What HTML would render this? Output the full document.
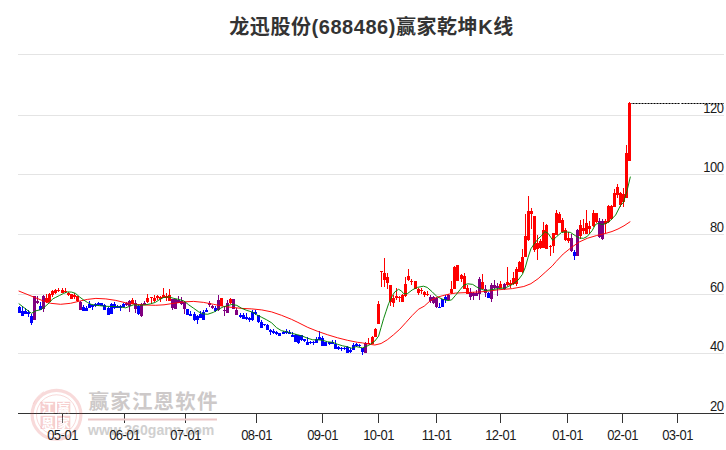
<!DOCTYPE html>
<html><head><meta charset="utf-8"><title>龙迅股份(688486)赢家乾坤K线</title>
<style>
html,body{margin:0;padding:0;background:#fff;}
body{width:726px;height:450px;overflow:hidden;}
svg{display:block;}
.lab{font-family:"Liberation Sans",sans-serif;font-size:13px;letter-spacing:-0.5px;fill:#1a1a1a;}
.ttl{font-family:"Liberation Sans","Noto Sans CJK SC",sans-serif;font-weight:bold;font-size:20px;fill:#333;letter-spacing:0.55px;}
.wm{font-family:"Liberation Sans","Noto Sans CJK SC",sans-serif;}
</style></head><body>
<svg width="726" height="450" viewBox="0 0 726 450">
<rect width="726" height="450" fill="#fff"/>
<text class="ttl" x="371.5" y="34" text-anchor="middle">龙迅股份(688486)赢家乾坤K线</text>
<g shape-rendering="crispEdges">
<rect x="18" y="54" width="706" height="1" fill="#e4e4e4"/>
<rect x="18" y="115" width="706" height="1" fill="#e4e4e4"/>
<rect x="18" y="174" width="706" height="1" fill="#e4e4e4"/>
<rect x="18" y="234" width="706" height="1" fill="#e4e4e4"/>
<rect x="18" y="294" width="706" height="1" fill="#e4e4e4"/>
<rect x="18" y="353" width="706" height="1" fill="#e4e4e4"/>
</g>
<g class="lab">
<text transform="translate(723.5,113) scale(1,1.09)" text-anchor="end">120</text>
<text transform="translate(723.5,172) scale(1,1.09)" text-anchor="end">100</text>
<text transform="translate(723.5,232) scale(1,1.09)" text-anchor="end">80</text>
<text transform="translate(723.5,292) scale(1,1.09)" text-anchor="end">60</text>
<text transform="translate(723.5,351) scale(1,1.09)" text-anchor="end">40</text>
<text transform="translate(723.5,411) scale(1,1.09)" text-anchor="end">20</text>
</g>
<g shape-rendering="crispEdges">
<g fill="#0000ff"><rect x="19" y="306" width="1" height="1"/><rect x="18" y="307" width="3" height="6"/></g>
<g fill="#0000ff"><rect x="22" y="306" width="1" height="5"/><rect x="21" y="311" width="3" height="5"/></g>
<g fill="#0000ff"><rect x="25" y="308" width="1" height="3"/><rect x="24" y="311" width="3" height="3"/></g>
<g fill="#0000ff"><rect x="28" y="310" width="1" height="2"/><rect x="28" y="314" width="1" height="3"/><rect x="27" y="312" width="3" height="2"/></g>
<g fill="#0000ff"><rect x="31" y="314" width="1" height="2"/><rect x="31" y="323" width="1" height="2"/><rect x="30" y="316" width="3" height="7"/></g>
<g fill="#800080"><rect x="33" y="296" width="3" height="24"/></g>
<g fill="#800080"><rect x="37" y="296" width="1" height="5"/><rect x="37" y="303" width="1" height="1"/><rect x="36" y="301" width="3" height="2"/></g>
<g fill="#0000ff"><rect x="40" y="302" width="1" height="4"/><rect x="39" y="306" width="3" height="4"/></g>
<g fill="#800080"><rect x="43" y="295" width="1" height="1"/><rect x="43" y="309" width="1" height="3"/><rect x="42" y="296" width="3" height="13"/></g>
<g fill="#ff0000"><rect x="46" y="294" width="1" height="4"/><rect x="46" y="302" width="1" height="1"/><rect x="45" y="298" width="3" height="4"/></g>
<g fill="#ff0000"><rect x="49" y="293" width="1" height="1"/><rect x="48" y="294" width="3" height="8"/></g>
<g fill="#ff0000"><rect x="52" y="290" width="1" height="1"/><rect x="52" y="295" width="1" height="2"/><rect x="51" y="291" width="3" height="4"/></g>
<g fill="#ff0000"><rect x="55" y="289" width="1" height="1"/><rect x="55" y="293" width="1" height="1"/><rect x="54" y="290" width="3" height="3"/></g>
<g fill="#ff0000"><rect x="58" y="288" width="1" height="2"/><rect x="58" y="291" width="1" height="1"/><rect x="57" y="290" width="3" height="1"/></g>
<g fill="#ff0000"><rect x="62" y="288" width="1" height="2"/><rect x="61" y="290" width="3" height="3"/></g>
<g fill="#ff0000"><rect x="65" y="288" width="1" height="3"/><rect x="65" y="292" width="1" height="1"/><rect x="64" y="291" width="3" height="1"/></g>
<g fill="#ff0000"><rect x="68" y="292" width="1" height="1"/><rect x="68" y="295" width="1" height="1"/><rect x="67" y="293" width="3" height="2"/></g>
<g fill="#ff0000"><rect x="70" y="294" width="3" height="5"/></g>
<g fill="#ff0000"><rect x="74" y="293" width="1" height="2"/><rect x="74" y="297" width="1" height="2"/><rect x="73" y="295" width="3" height="2"/></g>
<g fill="#ff0000"><rect x="77" y="301" width="1" height="1"/><rect x="76" y="296" width="3" height="5"/></g>
<g fill="#800080"><rect x="80" y="301" width="1" height="1"/><rect x="79" y="302" width="3" height="8"/></g>
<g fill="#0000ff"><rect x="83" y="305" width="1" height="2"/><rect x="82" y="307" width="3" height="4"/></g>
<g fill="#0000ff"><rect x="86" y="306" width="1" height="2"/><rect x="85" y="308" width="3" height="3"/></g>
<g fill="#0000ff"><rect x="89" y="301" width="1" height="3"/><rect x="88" y="304" width="3" height="4"/></g>
<g fill="#0000ff"><rect x="92" y="307" width="1" height="3"/><rect x="91" y="305" width="3" height="2"/></g>
<g fill="#0000ff"><rect x="95" y="303" width="1" height="1"/><rect x="95" y="306" width="1" height="1"/><rect x="94" y="304" width="3" height="2"/></g>
<g fill="#0000ff"><rect x="98" y="302" width="1" height="1"/><rect x="98" y="305" width="1" height="1"/><rect x="97" y="303" width="3" height="2"/></g>
<g fill="#0000ff"><rect x="100" y="303" width="3" height="3"/></g>
<g fill="#0000ff"><rect x="104" y="304" width="1" height="1"/><rect x="103" y="305" width="3" height="5"/></g>
<g fill="#0000ff"><rect x="108" y="307" width="1" height="1"/><rect x="107" y="308" width="3" height="7"/></g>
<g fill="#0000ff"><rect x="111" y="303" width="1" height="1"/><rect x="110" y="304" width="3" height="10"/></g>
<g fill="#0000ff"><rect x="114" y="302" width="1" height="2"/><rect x="114" y="308" width="1" height="1"/><rect x="113" y="304" width="3" height="4"/></g>
<g fill="#0000ff"><rect x="117" y="305" width="1" height="1"/><rect x="116" y="306" width="3" height="2"/></g>
<g fill="#0000ff"><rect x="120" y="305" width="1" height="1"/><rect x="120" y="308" width="1" height="3"/><rect x="119" y="306" width="3" height="2"/></g>
<g fill="#0000ff"><rect x="123" y="303" width="1" height="1"/><rect x="122" y="304" width="3" height="3"/></g>
<g fill="#800080"><rect x="126" y="302" width="1" height="1"/><rect x="126" y="305" width="1" height="1"/><rect x="125" y="303" width="3" height="2"/></g>
<g fill="#800080"><rect x="129" y="300" width="1" height="1"/><rect x="129" y="306" width="1" height="6"/><rect x="128" y="301" width="3" height="5"/></g>
<g fill="#ff0000"><rect x="132" y="298" width="1" height="2"/><rect x="131" y="300" width="3" height="4"/></g>
<g fill="#800080"><rect x="135" y="300" width="1" height="3"/><rect x="135" y="309" width="1" height="4"/><rect x="134" y="303" width="3" height="6"/></g>
<g fill="#0000ff"><rect x="138" y="305" width="1" height="1"/><rect x="138" y="314" width="1" height="1"/><rect x="137" y="306" width="3" height="8"/></g>
<g fill="#800080"><rect x="141" y="303" width="1" height="1"/><rect x="141" y="316" width="1" height="1"/><rect x="140" y="304" width="3" height="12"/></g>
<g fill="#800080"><rect x="144" y="301" width="1" height="2"/><rect x="143" y="303" width="3" height="2"/></g>
<g fill="#ff0000"><rect x="147" y="294" width="1" height="4"/><rect x="147" y="302" width="1" height="1"/><rect x="146" y="298" width="3" height="4"/></g>
<g fill="#ff0000"><rect x="151" y="298" width="1" height="5"/><rect x="150" y="297" width="3" height="1"/></g>
<g fill="#ff0000"><rect x="154" y="295" width="1" height="3"/><rect x="154" y="301" width="1" height="1"/><rect x="153" y="298" width="3" height="3"/></g>
<g fill="#ff0000"><rect x="157" y="295" width="1" height="1"/><rect x="157" y="298" width="1" height="2"/><rect x="156" y="296" width="3" height="2"/></g>
<g fill="#ff0000"><rect x="160" y="296" width="1" height="1"/><rect x="160" y="299" width="1" height="3"/><rect x="159" y="297" width="3" height="2"/></g>
<g fill="#ff0000"><rect x="163" y="288" width="1" height="7"/><rect x="162" y="295" width="3" height="3"/></g>
<g fill="#ff0000"><rect x="166" y="293" width="1" height="3"/><rect x="166" y="298" width="1" height="3"/><rect x="165" y="296" width="3" height="2"/></g>
<g fill="#ff0000"><rect x="169" y="289" width="1" height="6"/><rect x="168" y="295" width="3" height="6"/></g>
<g fill="#800080"><rect x="172" y="308" width="1" height="2"/><rect x="171" y="299" width="3" height="9"/></g>
<g fill="#800080"><rect x="174" y="299" width="3" height="10"/></g>
<g fill="#800080"><rect x="178" y="296" width="1" height="4"/><rect x="177" y="300" width="3" height="3"/></g>
<g fill="#800080"><rect x="181" y="297" width="1" height="4"/><rect x="181" y="304" width="1" height="1"/><rect x="180" y="301" width="3" height="3"/></g>
<g fill="#800080"><rect x="184" y="309" width="1" height="5"/><rect x="183" y="302" width="3" height="7"/></g>
<g fill="#0000ff"><rect x="186" y="309" width="3" height="6"/></g>
<g fill="#0000ff"><rect x="190" y="311" width="1" height="3"/><rect x="189" y="314" width="3" height="2"/></g>
<g fill="#0000ff"><rect x="194" y="312" width="1" height="2"/><rect x="194" y="320" width="1" height="1"/><rect x="193" y="314" width="3" height="6"/></g>
<g fill="#0000ff"><rect x="197" y="315" width="1" height="1"/><rect x="197" y="320" width="1" height="4"/><rect x="196" y="316" width="3" height="4"/></g>
<g fill="#0000ff"><rect x="200" y="311" width="1" height="3"/><rect x="199" y="314" width="3" height="4"/></g>
<g fill="#0000ff"><rect x="203" y="310" width="1" height="2"/><rect x="202" y="312" width="3" height="8"/></g>
<g fill="#0000ff"><rect x="206" y="308" width="1" height="2"/><rect x="205" y="310" width="3" height="2"/></g>
<g fill="#800080"><rect x="209" y="301" width="1" height="2"/><rect x="209" y="305" width="1" height="2"/><rect x="208" y="303" width="3" height="2"/></g>
<g fill="#800080"><rect x="212" y="305" width="1" height="1"/><rect x="212" y="308" width="1" height="1"/><rect x="211" y="306" width="3" height="2"/></g>
<g fill="#0000ff"><rect x="215" y="306" width="1" height="2"/><rect x="215" y="311" width="1" height="1"/><rect x="214" y="308" width="3" height="3"/></g>
<g fill="#800080"><rect x="218" y="295" width="1" height="5"/><rect x="218" y="310" width="1" height="1"/><rect x="217" y="300" width="3" height="10"/></g>
<g fill="#ff0000"><rect x="220" y="298" width="3" height="8"/></g>
<g fill="#800080"><rect x="224" y="307" width="1" height="3"/><rect x="224" y="311" width="1" height="5"/><rect x="223" y="310" width="3" height="1"/></g>
<g fill="#800080"><rect x="227" y="300" width="1" height="3"/><rect x="226" y="303" width="3" height="10"/></g>
<g fill="#ff0000"><rect x="230" y="298" width="1" height="1"/><rect x="230" y="303" width="1" height="1"/><rect x="229" y="299" width="3" height="4"/></g>
<g fill="#800080"><rect x="232" y="299" width="3" height="10"/></g>
<g fill="#800080"><rect x="236" y="308" width="1" height="2"/><rect x="235" y="310" width="3" height="5"/></g>
<g fill="#0000ff"><rect x="240" y="313" width="1" height="2"/><rect x="240" y="317" width="1" height="1"/><rect x="239" y="315" width="3" height="2"/></g>
<g fill="#0000ff"><rect x="243" y="313" width="1" height="2"/><rect x="242" y="315" width="3" height="4"/></g>
<g fill="#0000ff"><rect x="246" y="313" width="1" height="4"/><rect x="246" y="319" width="1" height="1"/><rect x="245" y="317" width="3" height="2"/></g>
<g fill="#0000ff"><rect x="249" y="317" width="1" height="1"/><rect x="249" y="320" width="1" height="2"/><rect x="248" y="318" width="3" height="2"/></g>
<g fill="#0000ff"><rect x="252" y="310" width="1" height="2"/><rect x="252" y="320" width="1" height="1"/><rect x="251" y="312" width="3" height="8"/></g>
<g fill="#0000ff"><rect x="255" y="310" width="1" height="2"/><rect x="255" y="314" width="1" height="1"/><rect x="254" y="312" width="3" height="2"/></g>
<g fill="#0000ff"><rect x="258" y="322" width="1" height="1"/><rect x="257" y="315" width="3" height="7"/></g>
<g fill="#0000ff"><rect x="261" y="320" width="1" height="2"/><rect x="260" y="322" width="3" height="6"/></g>
<g fill="#0000ff"><rect x="264" y="325" width="1" height="1"/><rect x="263" y="324" width="3" height="1"/></g>
<g fill="#0000ff"><rect x="267" y="324" width="1" height="1"/><rect x="266" y="325" width="3" height="5"/></g>
<g fill="#0000ff"><rect x="270" y="329" width="1" height="1"/><rect x="270" y="332" width="1" height="3"/><rect x="269" y="330" width="3" height="2"/></g>
<g fill="#0000ff"><rect x="273" y="329" width="1" height="2"/><rect x="273" y="333" width="1" height="1"/><rect x="272" y="331" width="3" height="2"/></g>
<g fill="#0000ff"><rect x="276" y="331" width="1" height="1"/><rect x="276" y="334" width="1" height="1"/><rect x="275" y="332" width="3" height="2"/></g>
<g fill="#0000ff"><rect x="278" y="333" width="3" height="3"/></g>
<g fill="#0000ff"><rect x="283" y="331" width="1" height="1"/><rect x="282" y="332" width="3" height="2"/></g>
<g fill="#0000ff"><rect x="286" y="329" width="1" height="2"/><rect x="286" y="333" width="1" height="1"/><rect x="285" y="331" width="3" height="2"/></g>
<g fill="#0000ff"><rect x="289" y="330" width="1" height="2"/><rect x="288" y="332" width="3" height="2"/></g>
<g fill="#0000ff"><rect x="292" y="332" width="1" height="3"/><rect x="291" y="335" width="3" height="2"/></g>
<g fill="#0000ff"><rect x="295" y="334" width="1" height="1"/><rect x="294" y="335" width="3" height="7"/></g>
<g fill="#0000ff"><rect x="298" y="343" width="1" height="1"/><rect x="297" y="335" width="3" height="8"/></g>
<g fill="#0000ff"><rect x="301" y="340" width="1" height="1"/><rect x="300" y="335" width="3" height="5"/></g>
<g fill="#0000ff"><rect x="304" y="341" width="1" height="1"/><rect x="303" y="339" width="3" height="2"/></g>
<g fill="#0000ff"><rect x="307" y="337" width="1" height="5"/><rect x="306" y="342" width="3" height="3"/></g>
<g fill="#0000ff"><rect x="310" y="341" width="1" height="1"/><rect x="310" y="343" width="1" height="1"/><rect x="309" y="342" width="3" height="1"/></g>
<g fill="#0000ff"><rect x="313" y="341" width="1" height="1"/><rect x="313" y="343" width="1" height="2"/><rect x="312" y="342" width="3" height="1"/></g>
<g fill="#0000ff"><rect x="316" y="337" width="1" height="2"/><rect x="315" y="339" width="3" height="4"/></g>
<g fill="#0000ff"><rect x="319" y="331" width="1" height="6"/><rect x="318" y="337" width="3" height="3"/></g>
<g fill="#0000ff"><rect x="322" y="336" width="1" height="2"/><rect x="321" y="338" width="3" height="8"/></g>
<g fill="#0000ff"><rect x="324" y="342" width="3" height="4"/></g>
<g fill="#0000ff"><rect x="329" y="344" width="1" height="1"/><rect x="328" y="342" width="3" height="2"/></g>
<g fill="#0000ff"><rect x="332" y="340" width="1" height="2"/><rect x="331" y="342" width="3" height="2"/></g>
<g fill="#0000ff"><rect x="335" y="340" width="1" height="4"/><rect x="334" y="344" width="3" height="5"/></g>
<g fill="#0000ff"><rect x="338" y="346" width="1" height="1"/><rect x="338" y="349" width="1" height="1"/><rect x="337" y="347" width="3" height="2"/></g>
<g fill="#0000ff"><rect x="341" y="347" width="1" height="1"/><rect x="341" y="349" width="1" height="2"/><rect x="340" y="348" width="3" height="1"/></g>
<g fill="#0000ff"><rect x="344" y="347" width="1" height="1"/><rect x="344" y="349" width="1" height="1"/><rect x="343" y="348" width="3" height="1"/></g>
<g fill="#0000ff"><rect x="347" y="346" width="1" height="1"/><rect x="346" y="347" width="3" height="6"/></g>
<g fill="#0000ff"><rect x="350" y="348" width="1" height="2"/><rect x="350" y="352" width="1" height="1"/><rect x="349" y="350" width="3" height="2"/></g>
<g fill="#0000ff"><rect x="353" y="343" width="1" height="2"/><rect x="352" y="345" width="3" height="5"/></g>
<g fill="#0000ff"><rect x="356" y="343" width="1" height="1"/><rect x="356" y="346" width="1" height="1"/><rect x="355" y="344" width="3" height="2"/></g>
<g fill="#0000ff"><rect x="359" y="344" width="1" height="1"/><rect x="359" y="346" width="1" height="1"/><rect x="358" y="345" width="3" height="1"/></g>
<g fill="#0000ff"><rect x="362" y="352" width="1" height="3"/><rect x="361" y="348" width="3" height="4"/></g>
<g fill="#800080"><rect x="365" y="342" width="1" height="1"/><rect x="364" y="343" width="3" height="10"/></g>
<g fill="#ff0000"><rect x="368" y="338" width="1" height="5"/><rect x="367" y="343" width="3" height="1"/></g>
<g fill="#ff0000"><rect x="372" y="336" width="1" height="1"/><rect x="371" y="337" width="3" height="7"/></g>
<g fill="#ff0000"><rect x="375" y="328" width="1" height="1"/><rect x="374" y="329" width="3" height="8"/></g>
<g fill="#ff0000"><rect x="378" y="301" width="1" height="3"/><rect x="377" y="304" width="3" height="20"/></g>
<g fill="#ff0000"><rect x="381" y="272" width="1" height="15"/><rect x="380" y="271" width="3" height="1"/></g>
<g fill="#ff0000"><rect x="384" y="258" width="1" height="15"/><rect x="384" y="280" width="1" height="7"/><rect x="383" y="273" width="3" height="7"/></g>
<g fill="#ff0000"><rect x="387" y="273" width="1" height="4"/><rect x="387" y="283" width="1" height="6"/><rect x="386" y="277" width="3" height="6"/></g>
<g fill="#ff0000"><rect x="390" y="302" width="1" height="4"/><rect x="389" y="285" width="3" height="17"/></g>
<g fill="#ff0000"><rect x="393" y="295" width="1" height="3"/><rect x="393" y="303" width="1" height="4"/><rect x="392" y="298" width="3" height="5"/></g>
<g fill="#ff0000"><rect x="396" y="288" width="1" height="8"/><rect x="396" y="298" width="1" height="2"/><rect x="395" y="296" width="3" height="2"/></g>
<g fill="#ff0000"><rect x="399" y="296" width="1" height="1"/><rect x="399" y="298" width="1" height="4"/><rect x="398" y="297" width="3" height="1"/></g>
<g fill="#ff0000"><rect x="402" y="294" width="1" height="1"/><rect x="401" y="295" width="3" height="7"/></g>
<g fill="#ff0000"><rect x="405" y="277" width="1" height="7"/><rect x="405" y="296" width="1" height="1"/><rect x="404" y="284" width="3" height="12"/></g>
<g fill="#ff0000"><rect x="408" y="269" width="1" height="7"/><rect x="408" y="280" width="1" height="1"/><rect x="407" y="276" width="3" height="4"/></g>
<g fill="#ff0000"><rect x="411" y="279" width="1" height="2"/><rect x="411" y="282" width="1" height="3"/><rect x="410" y="281" width="3" height="1"/></g>
<g fill="#ff0000"><rect x="414" y="281" width="3" height="8"/></g>
<g fill="#ff0000"><rect x="418" y="288" width="1" height="1"/><rect x="418" y="293" width="1" height="2"/><rect x="417" y="289" width="3" height="4"/></g>
<g fill="#ff0000"><rect x="421" y="288" width="1" height="2"/><rect x="421" y="291" width="1" height="3"/><rect x="420" y="290" width="3" height="1"/></g>
<g fill="#ff0000"><rect x="424" y="291" width="1" height="1"/><rect x="424" y="295" width="1" height="2"/><rect x="423" y="292" width="3" height="3"/></g>
<g fill="#ff0000"><rect x="427" y="291" width="1" height="3"/><rect x="427" y="295" width="1" height="1"/><rect x="426" y="294" width="3" height="1"/></g>
<g fill="#800080"><rect x="430" y="295" width="1" height="2"/><rect x="430" y="301" width="1" height="2"/><rect x="429" y="297" width="3" height="4"/></g>
<g fill="#800080"><rect x="433" y="296" width="1" height="1"/><rect x="433" y="303" width="1" height="1"/><rect x="432" y="297" width="3" height="6"/></g>
<g fill="#800080"><rect x="436" y="297" width="1" height="1"/><rect x="436" y="307" width="1" height="1"/><rect x="435" y="298" width="3" height="9"/></g>
<g fill="#0000ff"><rect x="439" y="303" width="1" height="4"/><rect x="438" y="307" width="3" height="1"/></g>
<g fill="#0000ff"><rect x="441" y="299" width="3" height="8"/></g>
<g fill="#0000ff"><rect x="445" y="295" width="1" height="2"/><rect x="445" y="300" width="1" height="3"/><rect x="444" y="297" width="3" height="3"/></g>
<g fill="#800080"><rect x="448" y="294" width="1" height="1"/><rect x="447" y="295" width="3" height="5"/></g>
<g fill="#ff0000"><rect x="451" y="281" width="1" height="8"/><rect x="451" y="293" width="1" height="1"/><rect x="450" y="289" width="3" height="4"/></g>
<g fill="#ff0000"><rect x="454" y="266" width="1" height="1"/><rect x="453" y="267" width="3" height="22"/></g>
<g fill="#ff0000"><rect x="456" y="265" width="3" height="16"/></g>
<g fill="#ff0000"><rect x="461" y="274" width="1" height="1"/><rect x="461" y="279" width="1" height="3"/><rect x="460" y="275" width="3" height="4"/></g>
<g fill="#ff0000"><rect x="464" y="273" width="1" height="3"/><rect x="463" y="276" width="3" height="13"/></g>
<g fill="#ff0000"><rect x="467" y="285" width="1" height="3"/><rect x="466" y="288" width="3" height="6"/></g>
<g fill="#800080"><rect x="470" y="288" width="1" height="4"/><rect x="470" y="297" width="1" height="3"/><rect x="469" y="292" width="3" height="5"/></g>
<g fill="#800080"><rect x="473" y="292" width="1" height="1"/><rect x="473" y="296" width="1" height="4"/><rect x="472" y="293" width="3" height="3"/></g>
<g fill="#800080"><rect x="476" y="290" width="1" height="3"/><rect x="475" y="293" width="3" height="3"/></g>
<g fill="#800080"><rect x="479" y="277" width="1" height="2"/><rect x="479" y="294" width="1" height="6"/><rect x="478" y="279" width="3" height="15"/></g>
<g fill="#ff0000"><rect x="482" y="274" width="1" height="8"/><rect x="481" y="282" width="3" height="7"/></g>
<g fill="#800080"><rect x="485" y="285" width="1" height="4"/><rect x="485" y="293" width="1" height="4"/><rect x="484" y="289" width="3" height="4"/></g>
<g fill="#0000ff"><rect x="488" y="292" width="1" height="1"/><rect x="487" y="293" width="3" height="5"/></g>
<g fill="#800080"><rect x="491" y="283" width="1" height="2"/><rect x="491" y="299" width="1" height="3"/><rect x="490" y="285" width="3" height="14"/></g>
<g fill="#800080"><rect x="494" y="280" width="1" height="5"/><rect x="494" y="288" width="1" height="1"/><rect x="493" y="285" width="3" height="3"/></g>
<g fill="#800080"><rect x="497" y="283" width="1" height="3"/><rect x="497" y="288" width="1" height="8"/><rect x="496" y="286" width="3" height="2"/></g>
<g fill="#ff0000"><rect x="500" y="281" width="1" height="3"/><rect x="499" y="284" width="3" height="4"/></g>
<g fill="#800080"><rect x="504" y="283" width="1" height="1"/><rect x="504" y="289" width="1" height="1"/><rect x="503" y="284" width="3" height="5"/></g>
<g fill="#ff0000"><rect x="507" y="267" width="1" height="15"/><rect x="507" y="285" width="1" height="1"/><rect x="506" y="282" width="3" height="3"/></g>
<g fill="#ff0000"><rect x="510" y="280" width="1" height="3"/><rect x="510" y="285" width="1" height="3"/><rect x="509" y="283" width="3" height="2"/></g>
<g fill="#ff0000"><rect x="513" y="272" width="1" height="6"/><rect x="513" y="284" width="1" height="1"/><rect x="512" y="278" width="3" height="6"/></g>
<g fill="#ff0000"><rect x="516" y="267" width="1" height="2"/><rect x="516" y="284" width="1" height="2"/><rect x="515" y="269" width="3" height="15"/></g>
<g fill="#ff0000"><rect x="519" y="261" width="1" height="1"/><rect x="518" y="262" width="3" height="10"/></g>
<g fill="#ff0000"><rect x="522" y="249" width="1" height="8"/><rect x="522" y="272" width="1" height="1"/><rect x="521" y="257" width="3" height="15"/></g>
<g fill="#ff0000"><rect x="525" y="214" width="1" height="22"/><rect x="524" y="236" width="3" height="21"/></g>
<g fill="#ff0000"><rect x="528" y="196" width="1" height="15"/><rect x="528" y="240" width="1" height="1"/><rect x="527" y="211" width="3" height="29"/></g>
<g fill="#ff0000"><rect x="531" y="208" width="1" height="3"/><rect x="531" y="214" width="1" height="15"/><rect x="530" y="211" width="3" height="3"/></g>
<g fill="#ff0000"><rect x="534" y="250" width="1" height="2"/><rect x="533" y="216" width="3" height="34"/></g>
<g fill="#ff0000"><rect x="537" y="235" width="1" height="8"/><rect x="537" y="249" width="1" height="11"/><rect x="536" y="243" width="3" height="6"/></g>
<g fill="#ff0000"><rect x="540" y="239" width="1" height="2"/><rect x="540" y="248" width="1" height="1"/><rect x="539" y="241" width="3" height="7"/></g>
<g fill="#ff0000"><rect x="543" y="222" width="1" height="8"/><rect x="542" y="230" width="3" height="18"/></g>
<g fill="#ff0000"><rect x="546" y="224" width="1" height="1"/><rect x="545" y="225" width="3" height="24"/></g>
<g fill="#ff0000"><rect x="550" y="245" width="1" height="1"/><rect x="550" y="247" width="1" height="9"/><rect x="549" y="246" width="3" height="1"/></g>
<g fill="#ff0000"><rect x="553" y="246" width="1" height="7"/><rect x="552" y="233" width="3" height="13"/></g>
<g fill="#ff0000"><rect x="556" y="210" width="1" height="3"/><rect x="555" y="213" width="3" height="22"/></g>
<g fill="#ff0000"><rect x="559" y="212" width="1" height="2"/><rect x="558" y="214" width="3" height="9"/></g>
<g fill="#ff0000"><rect x="562" y="218" width="1" height="2"/><rect x="562" y="232" width="1" height="1"/><rect x="561" y="220" width="3" height="12"/></g>
<g fill="#ff0000"><rect x="565" y="228" width="1" height="2"/><rect x="565" y="240" width="1" height="1"/><rect x="564" y="230" width="3" height="10"/></g>
<g fill="#ff0000"><rect x="568" y="232" width="1" height="6"/><rect x="568" y="241" width="1" height="2"/><rect x="567" y="238" width="3" height="3"/></g>
<g fill="#800080"><rect x="571" y="234" width="1" height="4"/><rect x="571" y="251" width="1" height="1"/><rect x="570" y="238" width="3" height="13"/></g>
<g fill="#0000ff"><rect x="574" y="250" width="1" height="2"/><rect x="574" y="256" width="1" height="4"/><rect x="573" y="252" width="3" height="4"/></g>
<g fill="#800080"><rect x="577" y="229" width="1" height="1"/><rect x="576" y="230" width="3" height="26"/></g>
<g fill="#ff0000"><rect x="580" y="220" width="1" height="5"/><rect x="580" y="236" width="1" height="3"/><rect x="579" y="225" width="3" height="11"/></g>
<g fill="#ff0000"><rect x="583" y="219" width="1" height="9"/><rect x="583" y="231" width="1" height="3"/><rect x="582" y="228" width="3" height="3"/></g>
<g fill="#ff0000"><rect x="586" y="210" width="1" height="13"/><rect x="585" y="223" width="3" height="11"/></g>
<g fill="#ff0000"><rect x="589" y="221" width="1" height="5"/><rect x="589" y="229" width="1" height="5"/><rect x="588" y="226" width="3" height="3"/></g>
<g fill="#ff0000"><rect x="593" y="210" width="1" height="3"/><rect x="593" y="226" width="1" height="1"/><rect x="592" y="213" width="3" height="13"/></g>
<g fill="#ff0000"><rect x="596" y="222" width="1" height="1"/><rect x="595" y="213" width="3" height="9"/></g>
<g fill="#800080"><rect x="599" y="218" width="1" height="3"/><rect x="599" y="237" width="1" height="1"/><rect x="598" y="221" width="3" height="16"/></g>
<g fill="#800080"><rect x="602" y="219" width="1" height="2"/><rect x="602" y="239" width="1" height="1"/><rect x="601" y="221" width="3" height="18"/></g>
<g fill="#ff0000"><rect x="605" y="219" width="1" height="2"/><rect x="605" y="224" width="1" height="9"/><rect x="604" y="221" width="3" height="3"/></g>
<g fill="#ff0000"><rect x="608" y="205" width="1" height="1"/><rect x="608" y="222" width="1" height="1"/><rect x="607" y="206" width="3" height="16"/></g>
<g fill="#ff0000"><rect x="611" y="205" width="1" height="1"/><rect x="611" y="219" width="1" height="1"/><rect x="610" y="206" width="3" height="13"/></g>
<g fill="#ff0000"><rect x="614" y="189" width="1" height="4"/><rect x="613" y="193" width="3" height="14"/></g>
<g fill="#ff0000"><rect x="617" y="184" width="1" height="3"/><rect x="617" y="195" width="1" height="3"/><rect x="616" y="187" width="3" height="8"/></g>
<g fill="#ff0000"><rect x="620" y="192" width="1" height="1"/><rect x="620" y="205" width="1" height="2"/><rect x="619" y="193" width="3" height="12"/></g>
<g fill="#ff0000"><rect x="623" y="188" width="1" height="6"/><rect x="623" y="202" width="1" height="5"/><rect x="622" y="194" width="3" height="8"/></g>
<g fill="#ff0000"><rect x="626" y="145" width="1" height="8"/><rect x="625" y="153" width="3" height="45"/></g>
<g fill="#ff0000"><rect x="629" y="102" width="1" height="1"/><rect x="628" y="103" width="3" height="58"/></g>
</g>
<polyline points="19,291.1 35.8,297.9 45.8,301.9 50.7,303.3 60.6,304.3 70.6,303.3 80.5,300.9 87.4,299.4 95.9,298.4 105.8,298.9 115.8,300.4 125.7,302.8 135.6,304.3 145.5,305 155.4,305.3 164,304.8 173.8,303.3 183.8,301.9 193.7,301.4 203.6,302.4 213.5,304.3 223.4,306.3 231.9,307.4 241.8,308.4 251.8,308.9 261.7,309.9 271.6,311.9 281.5,315.3 291.4,319.3 297.9,322.4 307.8,327.4 317.8,331.4 327.7,334.8 337.6,337.8 347.5,340.3 357.4,342.3 362.4,342.9 368.7,344.2 374.9,345 381.1,343.5 387.3,339.8 393.5,334.8 399.8,329.2 406,322.4 412.2,315.5 418.4,309.3 424.2,306.2 430.4,300.6 436.7,297.4 442.9,295.6 449.1,294.1 455.3,293.1 467.8,292.5 480.2,291.9 490,290.9 498.2,289.8 512.4,288.6 523.8,286.5 530.9,283.7 538.1,278.7 545.2,272.3 552.3,265.9 556,261.6 563.2,254 571.2,247.6 579.2,242 587.3,238.3 596.7,235.5 606,233.3 612,231.5 618,229 624,225.8 630,221.8" fill="none" stroke="#ff0000" stroke-width="0.95" stroke-linejoin="round" stroke-linecap="round"/>
<polyline points="19,303.8 31.4,313.3 35.8,310.8 40.3,309.8 44.8,306.8 49.7,302.4 52.7,298.9 55.7,297.4 59.7,295.4 63.6,293.4 67.6,291.9 71.6,292.1 75.5,293.4 79.5,296.9 83.5,299.9 87.4,302.4 91,304.3 95.9,305.3 105.8,306.3 115.8,306.6 120.7,307 125.7,307.8 129.7,306.3 133.6,304.8 139.6,305.3 145.5,304.8 150.5,303.8 155.4,302.4 159,299.9 163.9,297.4 168.9,296.9 173.8,298.4 178.8,299.4 183.8,300.9 188.7,304.8 193.7,308.3 198.6,311.8 202.6,313.8 207.6,314.3 213.5,312.3 218.5,309.3 223.4,306.8 227,305.9 231.9,304.4 236.9,305.4 241.8,308.4 246.8,310.4 251.8,311.9 256.7,314.8 261.7,317.3 266.6,319.8 271.6,322.8 276.6,327.7 281.5,330.7 286.5,331.7 291.4,333.2 297.9,334.8 302.9,336.3 307.8,338.3 312.8,339.8 317.8,339.8 322.7,340.3 327.7,341.8 332.6,342.3 337.6,344.3 342.6,345.8 347.5,346.8 351.5,348.2 356.2,346.6 362.4,347.9 368.7,345.4 374.9,341 378.6,336.1 381.1,327.4 383.6,318.7 386.1,311.2 388.6,303.7 390.4,300 392.4,295.5 394.9,291.8 398.6,289.3 401.7,291.2 403.6,293.7 407.3,293.7 412.3,289.9 417.3,287.4 423.5,286.2 427.2,287.4 432.2,291.8 437.2,296.8 442.9,299.3 447.9,300.6 451.6,299.9 455.3,295.6 460.3,289.4 464,285 467.8,283.8 472.7,284.4 476.5,286.9 480.2,288.7 485.2,290.6 491.1,289.8 498.2,288.6 505.3,287.9 512.4,284.4 518.1,280.1 522.4,274.4 525.3,267.3 528.1,257.3 530.9,248.8 533.8,244.5 538.1,238.8 541.6,235.6 544.8,231.6 548,233.2 552.8,240.4 556.8,236.4 561.6,232.4 566.4,231.9 570.4,232.4 575.2,235.6 579.2,238 583.6,238.3 587.3,236.4 592,230.8 595.7,224.3 598.5,223.3 602.3,224.5 605.1,223.8 608.8,221.9 615.6,215.1 620.7,205 623.3,202.7 627.2,190.2 630.3,177" fill="none" stroke="#008000" stroke-width="0.95" stroke-linejoin="round" stroke-linecap="round"/>
<g shape-rendering="crispEdges">
<rect x="631" y="103" width="49" height="1" fill="#727272"/>
<rect x="681" y="103" width="43" height="1" fill="#727272"/>
<rect x="633" y="103" width="1" height="1" fill="#000"/><rect x="636" y="103" width="1" height="1" fill="#000"/><rect x="639" y="103" width="1" height="1" fill="#000"/><rect x="642" y="103" width="1" height="1" fill="#000"/><rect x="645" y="103" width="1" height="1" fill="#000"/><rect x="648" y="103" width="1" height="1" fill="#000"/><rect x="651" y="103" width="1" height="1" fill="#000"/><rect x="654" y="103" width="1" height="1" fill="#000"/><rect x="657" y="103" width="1" height="1" fill="#000"/><rect x="660" y="103" width="1" height="1" fill="#000"/><rect x="663" y="103" width="1" height="1" fill="#000"/><rect x="666" y="103" width="1" height="1" fill="#000"/><rect x="669" y="103" width="1" height="1" fill="#000"/><rect x="672" y="103" width="1" height="1" fill="#000"/><rect x="675" y="103" width="1" height="1" fill="#000"/><rect x="678" y="103" width="1" height="1" fill="#000"/><rect x="682" y="103" width="1" height="1" fill="#000"/><rect x="685" y="103" width="1" height="1" fill="#000"/><rect x="688" y="103" width="1" height="1" fill="#000"/><rect x="691" y="103" width="1" height="1" fill="#000"/><rect x="694" y="103" width="1" height="1" fill="#000"/><rect x="697" y="103" width="1" height="1" fill="#000"/><rect x="700" y="103" width="1" height="1" fill="#000"/><rect x="703" y="103" width="1" height="1" fill="#000"/><rect x="706" y="103" width="1" height="1" fill="#000"/><rect x="709" y="103" width="1" height="1" fill="#000"/><rect x="712" y="103" width="1" height="1" fill="#000"/><rect x="715" y="103" width="1" height="1" fill="#000"/><rect x="718" y="103" width="1" height="1" fill="#000"/><rect x="721" y="103" width="1" height="1" fill="#000"/>
<rect x="18" y="413" width="706" height="1" fill="#333"/>
<rect x="62" y="414" width="1" height="9" fill="#333"/>
<rect x="124" y="414" width="1" height="9" fill="#333"/>
<rect x="185" y="414" width="1" height="9" fill="#333"/>
<rect x="256" y="414" width="1" height="9" fill="#333"/>
<rect x="322" y="414" width="1" height="9" fill="#333"/>
<rect x="378" y="414" width="1" height="9" fill="#333"/>
<rect x="436" y="414" width="1" height="9" fill="#333"/>
<rect x="500" y="414" width="1" height="9" fill="#333"/>
<rect x="567" y="414" width="1" height="9" fill="#333"/>
<rect x="622" y="414" width="1" height="9" fill="#333"/>
<rect x="677" y="414" width="1" height="9" fill="#333"/>
</g>
<g class="wm">
<g fill="#dc3c3c" stroke="#dc3c3c">
<circle cx="56.5" cy="414.8" r="24.4" fill="none" stroke-width="3.2" opacity="0.19"/>
<circle cx="56.5" cy="414.8" r="20" fill="none" stroke-width="1" opacity="0.2"/>
<path d="M33 404 A25.5 25.5 0 0 1 44 391.5" fill="none" stroke-width="0.8" opacity="0.15"/>
<g opacity="0.24" stroke="none">
<rect x="40.5" y="401.8" width="14.6" height="11.5"/>
<rect x="57" y="401.8" width="13.3" height="11.5"/>
<rect x="40.5" y="415.8" width="14.6" height="13.2"/>
<rect x="57" y="415.8" width="13.3" height="13.2"/>
<g font-family="Liberation Sans,Noto Sans CJK SC,sans-serif" font-size="12.5" fill="#fff" font-weight="bold">
<text x="41.6" y="412.6">江</text><text x="57.4" y="412.6">赢</text>
<text x="41.6" y="427.6">恩</text><text x="57.4" y="427.6">家</text>
</g>
</g>
</g>
<text x="88.5" y="409" font-family="Liberation Sans,Noto Sans CJK SC,sans-serif" font-size="20.5" font-weight="bold" fill="#cdc9c9" letter-spacing="1.2">赢家江恩软件</text>
<rect x="88" y="418.5" width="129" height="2" fill="#ecc8c8"/>
<text x="88" y="435.3" font-family="Liberation Sans,sans-serif" font-size="14.1" font-weight="bold" fill="#d0d0d0">www.360gann.com</text>
</g>
<g class="lab">
<text transform="translate(62.5,440) scale(1,1.09)" text-anchor="middle">05-01</text>
<text transform="translate(124.5,440) scale(1,1.09)" text-anchor="middle">06-01</text>
<text transform="translate(185.5,440) scale(1,1.09)" text-anchor="middle">07-01</text>
<text transform="translate(256.5,440) scale(1,1.09)" text-anchor="middle">08-01</text>
<text transform="translate(322.5,440) scale(1,1.09)" text-anchor="middle">09-01</text>
<text transform="translate(378.5,440) scale(1,1.09)" text-anchor="middle">10-01</text>
<text transform="translate(436.5,440) scale(1,1.09)" text-anchor="middle">11-01</text>
<text transform="translate(500.5,440) scale(1,1.09)" text-anchor="middle">12-01</text>
<text transform="translate(567.5,440) scale(1,1.09)" text-anchor="middle">01-01</text>
<text transform="translate(622.5,440) scale(1,1.09)" text-anchor="middle">02-01</text>
<text transform="translate(677.5,440) scale(1,1.09)" text-anchor="middle">03-01</text>
</g>
</svg>
</body></html>
